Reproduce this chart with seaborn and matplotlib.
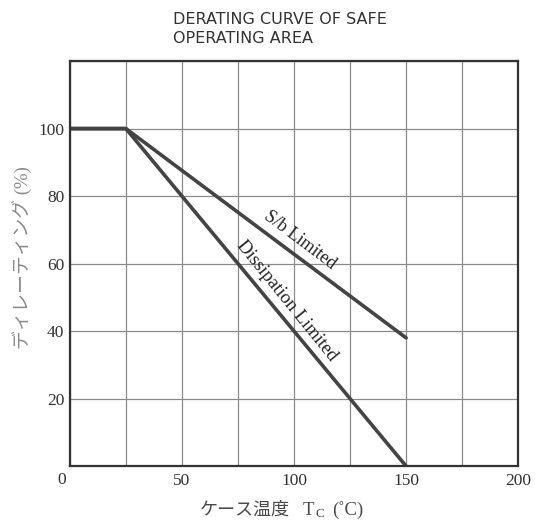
import matplotlib
matplotlib.use("Agg")
import matplotlib.pyplot as plt
import seaborn as sns
import pandas as pd

# Data
sb_x = [0, 25, 150]
sb_y = [100, 100, 38]
diss_x = [0, 25, 150]
diss_y = [100, 100, 0]
x_ticks = [0, 50, 100, 150, 200]
y_ticks = [0, 20, 40, 60, 80, 100]
title = "DERATING CURVE OF SAFE\nOPERATING AREA"
xlabel_main = "ケース温度"
xlabel_t = "T"
xlabel_sub = "C"
xlabel_unit = "(˚C)"
ylabel = "ディレーティング (%)"

sns.set_theme(style="white")
plt.rcParams['font.family'] = ['Liberation Serif', 'Noto Sans CJK JP', 'DejaVu Sans']

df = pd.concat([
    pd.DataFrame({"x": sb_x, "y": sb_y, "s": "S/b Limited"}),
    pd.DataFrame({"x": diss_x, "y": diss_y, "s": "Dissipation Limited"}),
])

W, H = 537, 522
fig = plt.figure(figsize=(W / 100, H / 100), dpi=100)
ax = fig.add_axes([0.130, 0.107, 0.835, 0.776])

sns.lineplot(data=df, x="x", y="y", units="s", estimator=None, color="#444444",
             linewidth=2.6, ax=ax, legend=False, sort=False)

ax.set_xlim(0, 200)
ax.set_ylim(0, 120)
ax.set_xticks(x_ticks, labels=[""] + [str(v) for v in x_ticks[1:]])
ax.set_xticks(range(0, 201, 25), minor=True)
ax.set_yticks(range(0, 121, 20),
              labels=[""] + [str(v) for v in y_ticks[1:]] + [""])
ax.grid(True, which="both", color="#8a8a8a", linewidth=0.9)
ax.set_axisbelow(True)
ax.tick_params(which="both", length=0, labelsize=12.5, colors="#333333")
ax.tick_params(axis="x", pad=5)
ax.tick_params(axis="y", pad=4)
ax.set_xlabel("")
ax.set_ylabel("")
ax.text(-0.018, -0.015, "0", transform=ax.transAxes, ha="center", va="top",
        fontsize=12.5, color="#333333")

for sp in ax.spines.values():
    sp.set_color("#333333")
    sp.set_linewidth(1.6)

# x label in pieces (for the subscript); positions in figure pixels
def fx(px):
    return px / W

def fy(py):
    return 1 - py / H

xl_color = "#4a4a4a"
fig.text(fx(200), fy(515), xlabel_main, ha="left", va="baseline",
         fontsize=13, color=xl_color)
fig.text(fx(303), fy(515), xlabel_t, ha="left", va="baseline",
         fontsize=13.5, color=xl_color)
fig.text(fx(315), fy(517), xlabel_sub, ha="left", va="baseline",
         fontsize=9.5, color=xl_color)
fig.text(fx(332), fy(515), xlabel_unit, ha="left", va="baseline",
         fontsize=13.5, color=xl_color)

ax.text(-0.107, 0.514, ylabel, transform=ax.transAxes, rotation=90,
        ha="center", va="center", fontsize=13.5, color="#8a8a8a")

ax.text(102.7, 66.9, "S/b Limited", rotation=-37, ha="center", va="center",
        fontsize=13, color="#222222", rotation_mode="anchor")
ax.text(96.9, 49.1, "Dissipation Limited", rotation=-51, ha="center", va="center",
        fontsize=13.5, color="#222222", rotation_mode="anchor")

fig.text(0.322, 0.977, title, ha="left", va="top", fontsize=11.5, color="#333333",
         family=["Liberation Sans Narrow", "DejaVu Sans"], linespacing=1.35)

fig.savefig("out.png", dpi=100, facecolor="white")
